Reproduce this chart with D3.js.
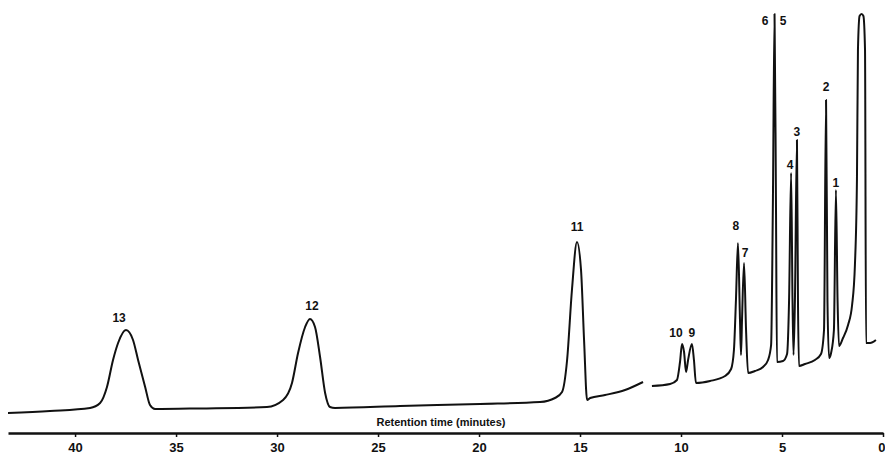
<!DOCTYPE html>
<html>
<head>
<meta charset="utf-8">
<script src="https://cdn.jsdelivr.net/npm/d3@7"></script>
<style>
  body { margin: 0; background: #fff; }
  svg text { font-family: "Liberation Sans", Arial, sans-serif; font-weight: bold; fill: #111; }
</style>
</head>
<body>
<script>
// Chromatogram trace: retention time (min), detector response (0-100)
// null marks the break in the recorder trace around 11.5 min
const traceTimes = [
  43.32, 41.24, 39.26, 38.76, 38.42, 38.12, 37.87, 37.48, 37.13, 36.88, 36.53, 36.29, 36.04,
  33.81, 30.50, 29.70, 29.26, 28.96, 28.61, 28.37, 28.12, 27.87, 27.62, 27.38, 27.13,
  23.91, 19.95, 16.98, 16.24, 15.89, 15.64, 15.40, 15.15, 14.95, 14.80, 14.65, 14.50,
  13.76, 12.77, 11.88,
  11.66,
  11.44, 10.54, 10.20, 10.05, 9.95, 9.85, 9.75, 9.65, 9.46, 9.36, 9.26, 8.56, 7.82,
  7.52, 7.38, 7.28, 7.18, 7.08, 7.03, 6.98, 6.88, 6.78, 6.68, 6.34, 5.94, 5.69, 5.54,
  5.45, 5.37, 5.30, 5.25, 4.95, 4.75, 4.65, 4.55, 4.48, 4.43, 4.36, 4.26, 4.21, 4.16,
  3.86, 3.37, 3.07, 2.92, 2.82, 2.75, 2.67, 2.57, 2.43, 2.33, 2.25, 2.18, 1.98, 1.73,
  1.53, 1.39, 1.29, 1.24, 1.16, 1.06, 0.97, 0.89, 0.84, 0.64, 0.35
];
const traceResponse = [
  0.25, 0.75, 1.5, 2.75, 6.75, 13.5, 17.75, 21, 18.5, 13.5, 6.75, 2.25, 1.25,
  1.4, 1.75, 3.5, 7.75, 15.25, 21.75, 23.75, 21.75, 14.25, 5.25, 1.75, 1.5,
  2, 2.5, 3, 4, 5.5, 13.5, 31, 43, 36, 18.5, 3.5, 4,
  4.75, 6, 8,
  null,
  7, 7.5, 8.5, 13, 17.5, 15.5, 10.5, 13.5, 17.5, 13.5, 7.75, 8.25, 9.5,
  11.25, 16, 28.5, 42.75, 23.5, 14.75, 23.5, 37.75, 21, 10.25, 10.75, 11.75, 13.5, 17.25,
  53.5, 100, 53.5, 13, 13.25, 15, 28.5, 60.25, 28.5, 14.75, 28.5, 68.5, 28.5, 12,
  12.5, 13.5, 15, 21, 78.5, 28.5, 14, 15.25, 21, 56, 28.5, 17, 19, 22.25,
  27.25, 37.25, 58.5, 91, 99.5, 100, 99.5, 91, 17.75, 17.75, 18.5
];

// Peak numbers and where each number sits (time, response)
const peakNames = ["1", "2", "3", "4", "5", "6", "7", "8", "9", "10", "11", "12", "13"];
const peakLabelTimes = [2.33, 2.82, 4.26, 4.60, 4.95, 5.84, 6.83, 7.28, 9.46, 10.25, 15.15, 28.27, 37.82];
const peakLabelResponse = [57.75, 81.75, 70.5, 62.25, 98.25, 98.25, 40.25, 47, 20.25, 20.25, 46.75, 27, 24];

const timeTicks = [40, 35, 30, 25, 20, 15, 10, 5, 0];
const axisTitle = "Retention time (minutes)";

const width = 885, height = 456;

const svg = d3.select("body").append("svg")
    .attr("width", width)
    .attr("height", height);

// time runs right to left, 0 at the right edge
const x = d3.scaleLinear().domain([43.32, 0]).range([8, 883]);
const y = d3.scaleLinear().domain([0, 100]).range([414, 14]);

const trace = traceTimes.map((t, i) => ({t: t, v: traceResponse[i]}));

const line = d3.line()
    .defined(d => d.v !== null)
    .x(d => x(d.t))
    .y(d => y(d.v))
    .curve(d3.curveMonotoneX);

svg.append("path")
    .attr("d", line(trace))
    .attr("fill", "none")
    .attr("stroke", "#111")
    .attr("stroke-width", 2)
    .attr("stroke-linejoin", "round");

// peak numbers
svg.selectAll("text.peak")
    .data(peakNames)
    .enter().append("text")
    .attr("class", "peak")
    .attr("x", (d, i) => x(peakLabelTimes[i]))
    .attr("y", (d, i) => y(peakLabelResponse[i]))
    .attr("dy", "0.35em")
    .attr("text-anchor", "middle")
    .style("font-size", "12px")
    .text(d => d);

// bottom time axis
const xAxis = d3.axisBottom(x)
    .tickValues(timeTicks)
    .tickSize(4)
    .tickSizeOuter(0)
    .tickPadding(6);

const axisG = svg.append("g")
    .attr("transform", "translate(0,433)")
    .call(xAxis);

axisG.select(".domain")
    .attr("stroke", "#111")
    .attr("stroke-width", 2.5);
axisG.selectAll(".tick line")
    .attr("stroke", "#111")
    .attr("stroke-width", 1.5);
axisG.selectAll(".tick text")
    .style("font-family", "\"Liberation Sans\", Arial, sans-serif")
    .style("font-weight", "bold")
    .style("font-size", "13px")
    .attr("fill", "#111");
// keep the "0" at the right edge inside the page
axisG.selectAll(".tick text")
    .filter(d => d === 0)
    .attr("text-anchor", "end")
    .attr("dx", "2");

svg.append("text")
    .attr("x", 441)
    .attr("y", 422)
    .attr("dy", "0.35em")
    .attr("text-anchor", "middle")
    .style("font-size", "11px")
    .text(axisTitle);
</script>
</body>
</html>
